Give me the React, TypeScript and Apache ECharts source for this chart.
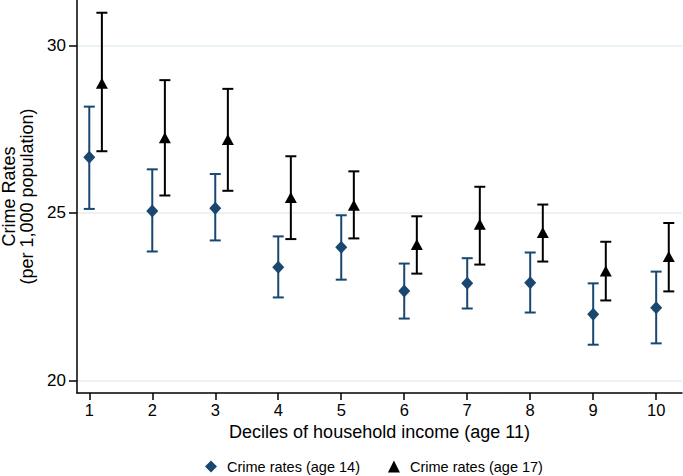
import React, { useEffect, useRef } from "react";
import * as echarts from "echarts";

const deciles = [1, 2, 3, 4, 5, 6, 7, 8, 9, 10];
const age14Mean = [26.66, 25.06, 25.14, 23.38, 23.98, 22.67, 22.9, 22.92, 21.98, 22.17];
const age14Low = [25.12, 23.85, 24.18, 22.48, 23.01, 21.85, 22.15, 22.03, 21.07, 21.11];
const age14High = [28.17, 26.3, 26.16, 24.3, 24.93, 23.49, 23.65, 23.82, 22.9, 23.25];
const age17Mean = [28.87, 27.24, 27.19, 25.46, 25.23, 24.06, 24.66, 24.42, 23.27, 23.7];
const age17Low = [26.84, 25.52, 25.66, 24.22, 24.24, 23.19, 23.46, 23.55, 22.39, 22.66];
const age17High = [30.97, 28.96, 28.7, 26.69, 26.24, 24.9, 25.78, 25.25, 24.14, 24.7];
const yTicks = [20, 25, 30];

const SHIFT_17 = 0.2;
const BLUE = "#1a476f";
const BLACK = "#000000";
const FONT = "Liberation Sans, Arial, sans-serif";

function errorBarSeries(xs: number[], lo: number[], hi: number[], color: string) {
  return {
    type: "custom",
    silent: true,
    data: xs.map((x, i) => [x, lo[i], hi[i]]),
    encode: { x: 0, y: [1, 2] },
    z: 2,
    renderItem: (params: any, api: any) => {
      const x = api.value(0);
      const pLo = api.coord([x, api.value(1)]);
      const pHi = api.coord([x, api.value(2)]);
      const hw = 5.5;
      const style = { stroke: color, lineWidth: 2, fill: "none" };
      return {
        type: "group",
        children: [
          { type: "line", shape: { x1: pLo[0], y1: pLo[1], x2: pHi[0], y2: pHi[1] }, style },
          { type: "line", shape: { x1: pLo[0] - hw, y1: pLo[1], x2: pLo[0] + hw, y2: pLo[1] }, style },
          { type: "line", shape: { x1: pHi[0] - hw, y1: pHi[1], x2: pHi[0] + hw, y2: pHi[1] }, style },
        ],
      };
    },
  };
}

export default function App() {
  const ref = useRef<HTMLDivElement>(null);
  useEffect(() => {
    if (!ref.current) return;
    const chart = echarts.init(ref.current, null, { renderer: "svg" });
    const x14 = deciles;
    const x17 = deciles.map((d) => d + SHIFT_17);
    chart.setOption({
      animation: false,
      backgroundColor: "#ffffff",
      textStyle: { fontFamily: FONT },
      grid: { left: 77, right: 1, top: 0, bottom: 83, containLabel: false, outerBoundsMode: "none" },
      legend: {
        top: 459,
        left: 205,
        padding: 0,
        itemWidth: 12,
        itemHeight: 12,
        itemGap: 28,
        textStyle: { fontSize: 14.5, color: "#000", fontFamily: FONT, padding: [0, 0, 0, 5] },
        data: [
          { name: "Crime rates (age 14)", icon: "diamond", itemStyle: { color: BLUE } },
          { name: "Crime rates (age 17)", icon: "triangle", itemStyle: { color: BLACK } },
        ],
      },
      xAxis: {
        type: "value",
        min: 0.805,
        max: 10.41,
        name: "Deciles of household income (age 11)",
        nameLocation: "middle",
        nameGap: 28,
        nameTextStyle: { fontSize: 18, color: "#000", fontFamily: FONT },
        axisLine: { show: true, lineStyle: { color: "#000", width: 1.5 } },
        axisTick: { show: true, length: 7, lineStyle: { color: "#000", width: 1.5 }, customValues: deciles },
        axisLabel: { fontSize: 16.5, color: "#000", margin: 8, fontFamily: FONT, customValues: deciles },
        splitLine: { show: false },
      },
      yAxis: {
        type: "value",
        min: 19.63,
        max: 31.35,
        name: "Crime Rates\n(per 1,000 population)",
        nameLocation: "middle",
        nameRotate: 90,
        nameGap: 36,
        nameTextStyle: { fontSize: 18, color: "#000", fontFamily: FONT, lineHeight: 18 },
        axisLine: { show: true, lineStyle: { color: "#000", width: 1.5 } },
        axisTick: { show: true, length: 8, lineStyle: { color: "#000", width: 1.5 }, customValues: yTicks },
        axisLabel: { fontSize: 17, color: "#000", margin: 11, fontFamily: FONT, customValues: yTicks },
        splitLine: { show: true, lineStyle: { color: "#e4eef0", width: 1.5 } },
      },
      series: [
        errorBarSeries(x14, age14Low, age14High, BLUE),
        errorBarSeries(x17, age17Low, age17High, BLACK),
        {
          name: "Crime rates (age 14)",
          type: "scatter",
          symbol: "diamond",
          symbolSize: [12, 13],
          itemStyle: { color: BLUE, opacity: 1 },
          z: 3,
          data: x14.map((x, i) => [x, age14Mean[i]]),
        },
        {
          name: "Crime rates (age 17)",
          type: "scatter",
          symbol: "triangle",
          symbolSize: [12, 11],
          itemStyle: { color: BLACK, opacity: 1 },
          z: 3,
          data: x17.map((x, i) => [x, age17Mean[i]]),
        },
      ],
    });
    return () => chart.dispose();
  }, []);
  return <div ref={ref} style={{ width: 683, height: 476, position: "absolute", left: 0, top: 0 }} />;
}
